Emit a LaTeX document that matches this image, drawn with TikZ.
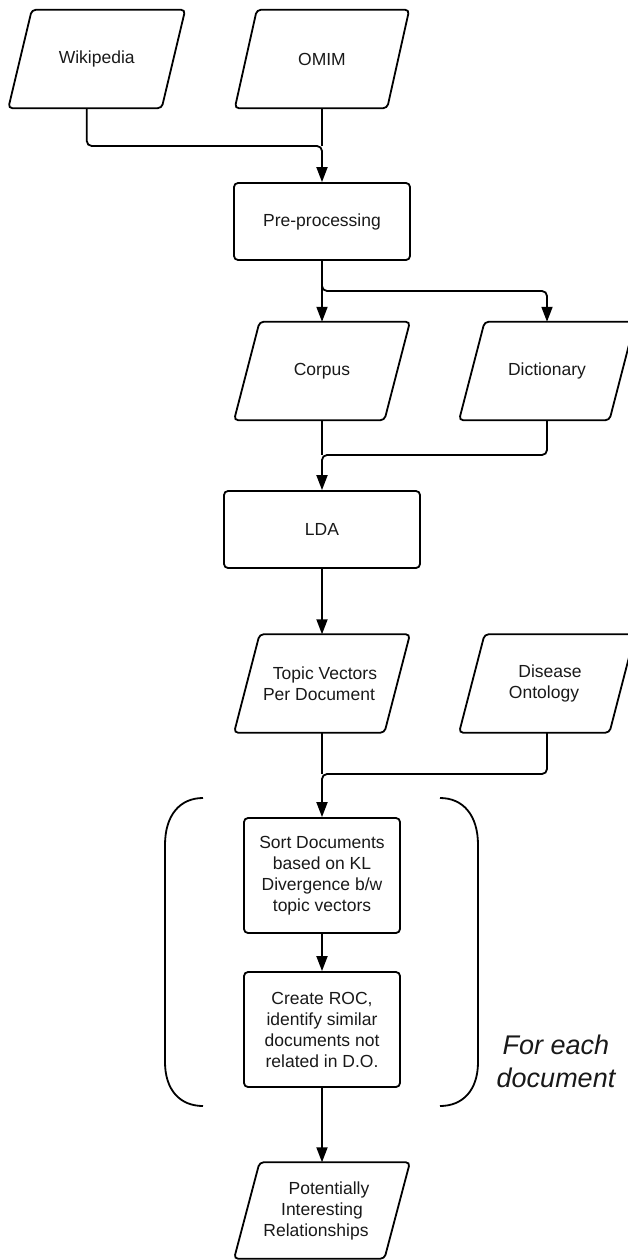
\documentclass[tikz,border=0pt]{standalone}
\usepackage{fontspec}
\setmainfont{Liberation Sans}
\usetikzlibrary{arrows.meta}
\tikzset{
  base/.style={font=\fontsize{17.5}{21}\selectfont, align=center, text=black!90},
  ptext/.style={base, minimum width=#1, minimum height=98pt, inner sep=0pt},
  procbox/.style={base, draw, line width=1.8pt, rounded corners=4pt, inner sep=0pt},
  shapeline/.style={line width=1.8pt, rounded corners=4pt},
  conn/.style={line width=1.8pt, rounded corners=5pt},
  arr/.style={conn, -{Triangle[length=15pt,width=11pt]}},
  brk/.style={line width=1.8pt},
  note/.style={font=\itshape\fontsize{27}{33}\selectfont, align=center, text=black!90}
}
\newcommand\paranode[6]{% name, cx, cy, width, half slant, text
  \node[ptext=#4] (#1) at (#2,#3) {#6};
  \draw[shapeline] ([xshift=-#5]#1.south west) -- ([xshift=#5]#1.north west)
    -- ([xshift=#5]#1.north east) -- ([xshift=-#5]#1.south east) -- cycle;
}
\begin{document}
\begin{tikzpicture}[x=1pt,y=-1pt]
\useasboundingbox (0,0) rectangle (628,1260);
\clip (0,0) rectangle (628,1260);

% inputs
\paranode{wiki}{96.75}{59}{153pt}{11.75pt}{Wikipedia}
\paranode{omim}{322}{59}{152pt}{11pt}{OMIM}

\node[procbox, minimum width=176pt, minimum height=77pt] (pre) at (322,221.5) {Pre-processing};

\paranode{corpus}{322}{371}{150pt}{12.75pt}{Corpus}
\paranode{dict}{547}{371}{150pt}{12.75pt}{Dictionary}

\node[procbox, minimum width=196pt, minimum height=77pt] (lda) at (322,529.5) {LDA};

\paranode{topic}{322}{683.5}{150pt}{12.75pt}{\hspace*{6pt}Topic Vectors\\Per Document\hspace*{6pt}}
\paranode{disease}{547}{683.5}{150pt}{12.75pt}{\hspace*{6pt}Disease\\Ontology\hspace*{6pt}}

\node[procbox, minimum width=156pt, minimum height=115pt] (sort) at (322,875.5)
  {Sort Documents\\based on KL\\Divergence b/w\\topic vectors};
\node[procbox, minimum width=156pt, minimum height=115pt] (create) at (322,1029.5)
  {Create ROC,\\identify similar\\documents not\\related in D.O.};

\node[ptext=150pt, minimum height=96pt] (pot) at (322,1210.5)
  {\hspace*{14pt}Potentially\\Interesting\\Relationships\hspace*{12pt}};
\draw[shapeline] ([xshift=-12.75pt]pot.south west) -- ([xshift=12.75pt]pot.north west)
  -- ([xshift=12.75pt]pot.north east) -- ([xshift=-12.75pt]pot.south east) -- cycle;

% connectors
\coordinate (j1) at (322,146);
\draw[conn] (omim.south) -- (j1);
\draw[arr] ([xshift=-10pt]wiki.south) |- (j1) -- (pre.north);

\coordinate (j2) at (547,291);
\draw[arr] (pre.south) -- (corpus.north);
\draw[arr] (pre.south) |- (j2) -- (dict.north);

\coordinate (j3) at (322,455);
\draw[conn] (corpus.south) -- (j3);
\draw[arr] (dict.south) |- (j3) -- (lda.north);

\draw[arr] (lda.south) -- (topic.north);

\coordinate (j4) at (322,774);
\draw[conn] (topic.south) -- (j4);
\draw[arr] (disease.south) |- (j4) -- (sort.north);

\draw[arr] (sort.south) -- (create.north);
\draw[arr] (create.south) -- (pot.north);

% brackets
\draw[brk] (203,798) .. controls (180,798) and (165,815) .. (165,845)
  -- (165,1062) .. controls (165,1090) and (180,1106) .. (203,1106);
\draw[brk] (440,798) .. controls (463,798) and (478,815) .. (478,845)
  -- (478,1062) .. controls (478,1090) and (463,1106) .. (440,1106);

\node[note] (foreach) at (556,1061) {For each\\document};
\end{tikzpicture}
\end{document}
